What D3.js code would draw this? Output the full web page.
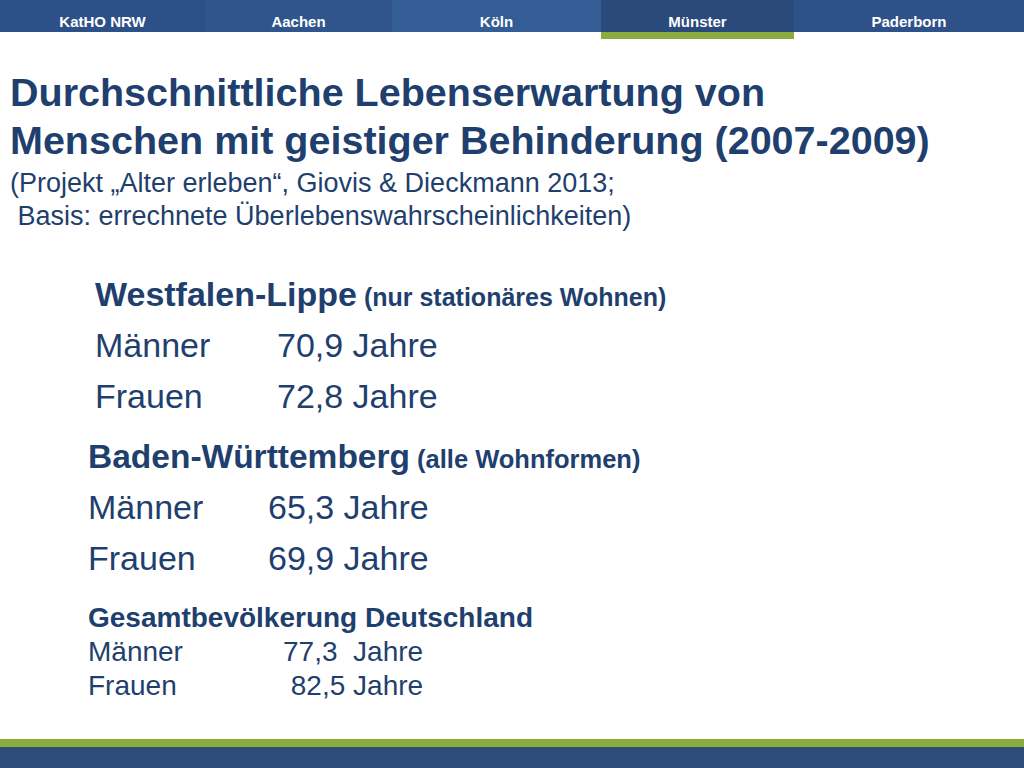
<!DOCTYPE html>
<html><head><meta charset="utf-8">
<script src="https://cdn.jsdelivr.net/npm/d3@7"></script>
<style>body{margin:0;background:#fff}svg{display:block;font-family:"Liberation Sans",Arial,sans-serif}text{white-space:pre}</style>
</head><body><div id="chart"></div>
<script>
// Navigation tabs
const tabs = ["KatHO NRW", "Aachen", "Köln", "Münster", "Paderborn"];
const tabEdges = [0, 205, 392, 601, 794, 1024];
const tabColors = ["#2e5088", "#30558c", "#355d95", "#2b4a7c", "#2f5189"];
const activeTab = "Münster";

// Regions and values (Jahre)
const groups = ["Westfalen-Lippe", "Baden-Württemberg", "Gesamtbevölkerung Deutschland"];
const groupNotes = ["(nur stationäres Wohnen)", "(alle Wohnformen)", ""];
const maenner = ["70,9", "65,3", "77,3 "];
const frauen = ["72,8", "69,9", " 82,5"];

const width = 1024, height = 768;
const svg = d3.select("#chart").append("svg").attr("width", width).attr("height", height);

tabs.forEach((t, i) => {
  const x0 = tabEdges[i], x1 = tabEdges[i + 1];
  svg.append("rect").attr("x", x0).attr("y", 0).attr("width", x1 - x0).attr("height", 32).attr("fill", tabColors[i]);
  svg.append("text").attr("x", (x0 + x1) / 2).attr("y", 27).attr("text-anchor", "middle")
    .attr("fill", "#fff").style("font-size", "15px").style("font-weight", "bold").text(t);
  if (t === activeTab)
    svg.append("rect").attr("x", x0).attr("y", 32).attr("width", x1 - x0).attr("height", 7).attr("fill", "#8aac3c");
});

// Title
const title = svg.append("g").attr("fill", "#1f3f6e");
title.append("text").attr("x", 10).attr("y", 106).style("font-size", "39.5px").style("font-weight", "bold")
  .text("Durchschnittliche Lebenserwartung von");
title.append("text").attr("x", 10).attr("y", 154).style("font-size", "39.5px").style("font-weight", "bold")
  .text("Menschen mit geistiger Behinderung (2007-2009)");
title.append("text").attr("x", 10).attr("y", 192).style("font-size", "27px")
  .text("(Projekt „Alter erleben“, Giovis & Dieckmann 2013;");
title.append("text").attr("x", 10).attr("y", 225).style("font-size", "27px")
  .text(" Basis: errechnete Überlebenswahrscheinlichkeiten)");

// Blocks
const blocks = [
  {x: 95, xv: 277, y: 306, dy: 51, fh: 34, fs: 34, fn: 25},
  {x: 88, xv: 268, y: 468, dy: 51, fh: 33.5, fs: 34, fn: 25.5},
  {x: 88, xv: 283, y: 627, dy: 34, fh: 28, fs: 28, fn: 28}
];
const body = svg.append("g").attr("fill", "#1f3f6e");
groups.forEach((g, i) => {
  const b = blocks[i];
  const t = body.append("text").attr("x", b.x).attr("y", b.y);
  t.append("tspan").style("font-size", b.fh + "px").style("font-weight", "bold").text(g);
  if (groupNotes[i]) t.append("tspan").style("font-size", b.fn + "px").style("font-weight", "bold").text(" " + groupNotes[i]);
  [["Männer", maenner[i]], ["Frauen", frauen[i]]].forEach(([k, v], j) => {
    const yy = b.y + b.dy * (j + 1);
    body.append("text").attr("x", b.x).attr("y", yy).style("font-size", b.fs + "px").text(k);
    body.append("text").attr("x", b.xv).attr("y", yy).style("font-size", b.fs + "px").text(v + " Jahre");
  });
});

// Footer
svg.append("rect").attr("x", 0).attr("y", 739).attr("width", width).attr("height", 8).attr("fill", "#8aac3c");
svg.append("rect").attr("x", 0).attr("y", 747).attr("width", width).attr("height", 21).attr("fill", "#2c4d7a");
</script></body></html>
